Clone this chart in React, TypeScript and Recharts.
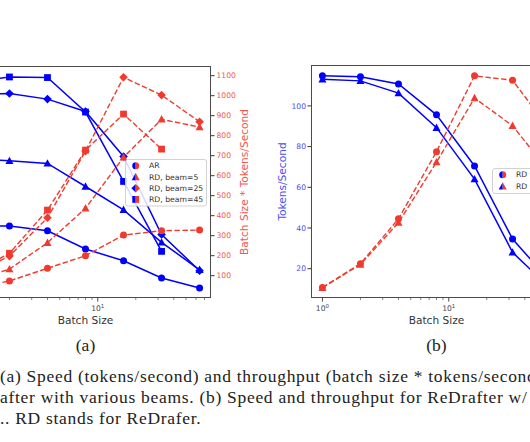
import React from "react";
import { ComposedChart, Line, XAxis, YAxis } from "recharts";

const BATCH = [1, 2, 4, 8, 16, 32, 64];

// (a) speed, tokens/second (left axis, off the crop)
const AR_SPEED = [37, 36.7, 34.3, 25, 19, 10.2, 5.1];
const B5_SPEED = [71, 70, 68.7, 56.9, 45, 28.4, 14.4];
const B25_SPEED = [103.5, 104.4, 101.5, 95.2, 72.2, 32.4, 13.9];
const B45_SPEED = [110, 112.8, 112.5, 94.9, 59.5, 23.8, null];

// (a) throughput, batch size * tokens/second
const AR_TPUT = [37, 73.5, 137, 200, 303, 325, 328];
const B5_TPUT = [71, 133, 265, 437, 692, 882, 843];
const B25_TPUT = [103.5, 198, 390, 723, 1092, 1003, 870];
const B45_TPUT = [110, 212, 428, 728, 908, 733, null];

const LEFT_LABELS = ["AR", "RD, beam=5", "RD, beam=25", "RD, beam=45"];
const LEFT_SHAPES = ["circle", "triangle", "diamond", "square"];

// (b)
const RD1_SPEED = [114.8, 114.3, 110.8, 95.6, 70.5, 34.6, 13.5];
const RD2_SPEED = [113.1, 112.3, 106.3, 89.3, 64, 28, 10.3];
const RD1_TPUT = [114.8, 228.6, 443, 765, 1128, 1107, 864];
const RD2_TPUT = [113.1, 224.6, 425, 715, 1022, 889, 660];

const RIGHT_LABELS = ["RD w/ TA", "RD w/o TA"];
const RIGHT_SHAPES = ["circle", "triangle"];

// the 10^0 tick of (a) sits outside the crop
const LEFT_LOG_TICKS = [2, 3, 4, 5, 6, 7, 8, 9, 10, 20, 30, 40, 50, 60, 70];
const RIGHT_LOG_TICKS = [1, 2, 3, 4, 5, 6, 7, 8, 9, 10, 20, 30, 40, 50, 60, 70];
const TPUT_TICKS = [100, 200, 300, 400, 500, 600, 700, 800, 900, 1000, 1100];
const SPEED_TICKS = [20, 40, 60, 80, 100];

const BLUE = "#0000ff";
const RED = "#f03a2e";
const RED_TEXT = "#f2554d";
const BLUE_TEXT = "#4c4cf2";
const X_DOMAIN = [0.812, 78.8];

const leftData = BATCH.map((b, i) => ({
  batch: b,
  arSpeed: AR_SPEED[i],
  b5Speed: B5_SPEED[i],
  b25Speed: B25_SPEED[i],
  b45Speed: B45_SPEED[i],
  arTput: AR_TPUT[i],
  b5Tput: B5_TPUT[i],
  b25Tput: B25_TPUT[i],
  b45Tput: B45_TPUT[i],
}));

const rightData = BATCH.map((b, i) => ({
  batch: b,
  rd1Speed: RD1_SPEED[i],
  rd2Speed: RD2_SPEED[i],
  rd1Tput: RD1_TPUT[i],
  rd2Tput: RD2_TPUT[i],
}));

function Marker({ shape, cx, cy, fill }: { shape: string; cx: number; cy: number; fill: string }) {
  if (shape === "triangle")
    return <polygon points={`${cx},${cy - 4.2} ${cx - 4},${cy + 3.2} ${cx + 4},${cy + 3.2}`} fill={fill} />;
  if (shape === "diamond")
    return <polygon points={`${cx},${cy - 4.3} ${cx - 4.3},${cy} ${cx},${cy + 4.3} ${cx + 4.3},${cy}`} fill={fill} />;
  if (shape === "square") return <rect x={cx - 3.4} y={cy - 3.4} width={6.8} height={6.8} fill={fill} />;
  return <circle cx={cx} cy={cy} r={3.5} fill={fill} />;
}

// legend marker: left half blue, right half red
function HalfMarker({ shape, cx, cy }: { shape: string; cx: number; cy: number }) {
  if (shape === "triangle")
    return (
      <g>
        <polygon points={`${cx},${cy - 4.2} ${cx - 4},${cy + 3.2} ${cx},${cy + 3.2}`} fill={BLUE} />
        <polygon points={`${cx},${cy - 4.2} ${cx + 4},${cy + 3.2} ${cx},${cy + 3.2}`} fill={RED} />
      </g>
    );
  if (shape === "diamond")
    return (
      <g>
        <polygon points={`${cx},${cy - 4.3} ${cx - 4.3},${cy} ${cx},${cy + 4.3}`} fill={BLUE} />
        <polygon points={`${cx},${cy - 4.3} ${cx + 4.3},${cy} ${cx},${cy + 4.3}`} fill={RED} />
      </g>
    );
  if (shape === "square")
    return (
      <g>
        <rect x={cx - 3.4} y={cy - 3.4} width={3.4} height={6.8} fill={BLUE} />
        <rect x={cx} y={cy - 3.4} width={3.4} height={6.8} fill={RED} />
      </g>
    );
  return (
    <g>
      <path d={`M${cx},${cy - 3.5} A3.5,3.5 0 0 0 ${cx},${cy + 3.5} Z`} fill={BLUE} />
      <path d={`M${cx},${cy - 3.5} A3.5,3.5 0 0 1 ${cx},${cy + 3.5} Z`} fill={RED} />
    </g>
  );
}

const makeDot = (shape: string, fill: string) => (p: any) => {
  if (p.cx == null || p.cy == null || p.value == null) return <g key={`e-${p.index}`} />;
  return <Marker key={`${shape}-${p.index}`} shape={shape} cx={p.cx} cy={p.cy} fill={fill} />;
};

function LogTick(props: any) {
  const { x, y, payload } = props;
  const exp = Math.log10(payload.value);
  const major = Math.abs(exp - Math.round(exp)) < 1e-6;
  return (
    <g>
      <line x1={x} x2={x} y1={y} y2={y + (major ? 3.5 : 2)} stroke="#333" strokeWidth={major ? 0.9 : 0.6} />
      {major && (
        <text x={x} y={y + 13} textAnchor="middle" fontSize={7.6} fill="#444">
          10<tspan dy={-3.5} fontSize={5.4}>{Math.round(exp)}</tspan>
        </text>
      )}
    </g>
  );
}

const xLabel = (props: any) => {
  const { x, y, width } = props.viewBox;
  return (
    <text x={x + width / 2} y={y + 26} textAnchor="middle" fontSize={10.6} fill="#333">
      Batch Size
    </text>
  );
};

const rotLabel = (text: string, dx: number, color: string) => (props: any) => {
  const { x, y, height } = props.viewBox;
  const cx = x + dx;
  const cy = y + height / 2;
  return (
    <text x={cx} y={cy} transform={`rotate(-90 ${cx} ${cy})`} textAnchor="middle" dominantBaseline="central" fontSize={10.6} fill={color}>
      {text}
    </text>
  );
};

function LegendBox({ left, top, width, height, labels, shapes, rowY, rowGap }: any) {
  return (
    <svg width={width} height={height} style={{ position: "absolute", left, top, overflow: "visible" }}>
      <rect x={0.5} y={0.5} width={width - 1} height={height - 1} rx={2.5} fill="rgba(255,255,255,0.85)" stroke="#d2d2d2" />
      {labels.map((l: string, i: number) => (
        <g key={l}>
          <HalfMarker shape={shapes[i]} cx={10.7} cy={rowY + i * rowGap} />
          <text x={24} y={rowY + i * rowGap} dominantBaseline="central" fontSize={7.7} fill="#333">
            {l}
          </text>
        </g>
      ))}
    </svg>
  );
}

const frame = (left: number, top: number, width: number, height: number): React.CSSProperties => ({
  position: "absolute",
  left,
  top,
  width,
  height,
  border: "1px solid #4a4a4a",
  boxSizing: "border-box",
  pointerEvents: "none",
});

const captionLine: React.CSSProperties = {
  position: "absolute",
  left: 0,
  whiteSpace: "nowrap",
  fontFamily: "'Liberation Serif', serif",
  fontSize: 17.5,
  letterSpacing: 0.7,
  lineHeight: "21px",
  color: "#222",
};

export default function App() {
  return (
    <div
      style={{
        position: "absolute",
        left: 0,
        top: 0,
        width: 530,
        height: 442,
        overflow: "hidden",
        background: "#fff",
        fontFamily: "'DejaVu Sans', sans-serif",
      }}
    >
      {/* (a) speed + throughput vs beams */}
      <div style={{ position: "absolute", left: -50, top: 0 }}>
        <ComposedChart width={311} height={340} data={leftData} margin={{ top: 66, left: 10, right: 5, bottom: 12 }}>
          <XAxis
            dataKey="batch"
            type="number"
            scale="log"
            domain={X_DOMAIN}
            allowDataOverflow
            ticks={LEFT_LOG_TICKS}
            interval={0}
            tick={<LogTick />}
            tickLine={false}
            axisLine={false}
            tickSize={0}
            tickMargin={0}
            height={30}
            label={xLabel}
          />
          <YAxis yAxisId="speed" hide domain={[0, 118.4]} allowDataOverflow />
          <YAxis
            yAxisId="tput"
            orientation="right"
            width={45}
            domain={[-11.5, 1148.5]}
            allowDataOverflow
            ticks={TPUT_TICKS}
            interval={0}
            tick={{ fill: RED_TEXT, fontSize: 7.6 }}
            tickSize={3.5}
            tickMargin={2}
            tickLine={{ stroke: "#333" }}
            axisLine={false}
            label={rotLabel("Batch Size * Tokens/Second", 32.7, RED_TEXT)}
          />
          <Line yAxisId="speed" dataKey="arSpeed" stroke={BLUE} strokeWidth={1.5} dot={makeDot("circle", BLUE)} activeDot={false} isAnimationActive={false} />
          <Line yAxisId="speed" dataKey="b5Speed" stroke={BLUE} strokeWidth={1.5} dot={makeDot("triangle", BLUE)} activeDot={false} isAnimationActive={false} />
          <Line yAxisId="speed" dataKey="b25Speed" stroke={BLUE} strokeWidth={1.5} dot={makeDot("diamond", BLUE)} activeDot={false} isAnimationActive={false} />
          <Line yAxisId="speed" dataKey="b45Speed" stroke={BLUE} strokeWidth={1.5} dot={makeDot("square", BLUE)} activeDot={false} isAnimationActive={false} />
          <Line yAxisId="tput" dataKey="arTput" stroke={RED} strokeWidth={1.4} strokeDasharray="5.5 2.4" dot={makeDot("circle", RED)} activeDot={false} isAnimationActive={false} />
          <Line yAxisId="tput" dataKey="b5Tput" stroke={RED} strokeWidth={1.4} strokeDasharray="5.5 2.4" dot={makeDot("triangle", RED)} activeDot={false} isAnimationActive={false} />
          <Line yAxisId="tput" dataKey="b25Tput" stroke={RED} strokeWidth={1.4} strokeDasharray="5.5 2.4" dot={makeDot("diamond", RED)} activeDot={false} isAnimationActive={false} />
          <Line yAxisId="tput" dataKey="b45Tput" stroke={RED} strokeWidth={1.4} strokeDasharray="5.5 2.4" dot={makeDot("square", RED)} activeDot={false} isAnimationActive={false} />
        </ComposedChart>
      </div>
      <div style={frame(-40, 66, 251, 232)} />
      <LegendBox left={125} top={158.5} width={82} height={47.5} labels={LEFT_LABELS} shapes={LEFT_SHAPES} rowY={6.8} rowGap={11.2} />

      {/* (b) */}
      <div style={{ position: "absolute", left: 261, top: 0 }}>
        <ComposedChart width={311} height={340} data={rightData} margin={{ top: 65, left: 10, right: 10, bottom: 12 }}>
          <XAxis
            dataKey="batch"
            type="number"
            scale="log"
            domain={X_DOMAIN}
            allowDataOverflow
            ticks={RIGHT_LOG_TICKS}
            interval={0}
            tick={<LogTick />}
            tickLine={false}
            axisLine={false}
            tickSize={0}
            tickMargin={0}
            height={30}
            label={xLabel}
          />
          <YAxis
            yAxisId="speed"
            width={40}
            domain={[5.6, 120.1]}
            allowDataOverflow
            ticks={SPEED_TICKS}
            interval={0}
            tick={{ fill: BLUE_TEXT, fontSize: 7.6 }}
            tickSize={3.5}
            tickMargin={1.5}
            tickLine={{ stroke: "#333" }}
            axisLine={false}
            label={rotLabel("Tokens/Second", 10.7, BLUE_TEXT)}
          />
          <YAxis yAxisId="tput" orientation="right" hide domain={[64, 1180]} allowDataOverflow />
          <Line yAxisId="speed" dataKey="rd1Speed" stroke={BLUE} strokeWidth={1.5} dot={makeDot("circle", BLUE)} activeDot={false} isAnimationActive={false} />
          <Line yAxisId="speed" dataKey="rd2Speed" stroke={BLUE} strokeWidth={1.5} dot={makeDot("triangle", BLUE)} activeDot={false} isAnimationActive={false} />
          <Line yAxisId="tput" dataKey="rd1Tput" stroke={RED} strokeWidth={1.4} strokeDasharray="5.5 2.4" dot={makeDot("circle", RED)} activeDot={false} isAnimationActive={false} />
          <Line yAxisId="tput" dataKey="rd2Tput" stroke={RED} strokeWidth={1.4} strokeDasharray="5.5 2.4" dot={makeDot("triangle", RED)} activeDot={false} isAnimationActive={false} />
        </ComposedChart>
      </div>
      <div style={frame(311, 65, 251, 233)} />
      <LegendBox left={491.7} top={168.3} width={70} height={26} labels={RIGHT_LABELS} shapes={RIGHT_SHAPES} rowY={6.7} rowGap={11.7} />

      {/* sub-captions */}
      <div style={{ ...captionLine, left: 85.5, top: 335, transform: "translateX(-50%)", letterSpacing: 0 }}>(a)</div>
      <div style={{ ...captionLine, left: 436.5, top: 335, transform: "translateX(-50%)", letterSpacing: 0 }}>(b)</div>

      <div style={{ ...captionLine, top: 366 }}>(a) Speed (tokens/second) and throughput (batch size * tokens/second)</div>
      <div style={{ ...captionLine, top: 387 }}>after with various beams. (b) Speed and throughput for ReDrafter w/</div>
      <div style={{ ...captionLine, top: 408 }}>.. RD stands for ReDrafer.</div>
    </div>
  );
}
